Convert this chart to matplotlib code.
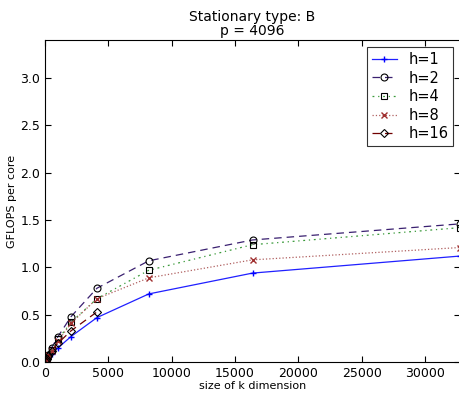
import matplotlib
matplotlib.use('Agg')
import matplotlib.pyplot as plt

k = [64, 128, 256, 512, 1024, 2048, 4096, 8192, 16384, 32768]
h1 = [0.015, 0.03, 0.05, 0.09, 0.15, 0.27, 0.47, 0.72, 0.94, 1.12]
h2 = [0.02, 0.04, 0.08, 0.15, 0.27, 0.48, 0.78, 1.07, 1.29, 1.46]
h4 = [0.02, 0.04, 0.07, 0.13, 0.24, 0.42, 0.67, 0.97, 1.24, 1.42]
h8 = [0.02, 0.04, 0.07, 0.12, 0.22, 0.41, 0.67, 0.89, 1.08, 1.21]
k16 = [64, 128, 256, 512, 1024, 2048, 4096]
h16 = [0.02, 0.03, 0.06, 0.12, 0.20, 0.33, 0.53]

fig = plt.figure(figsize=(4.6, 3.94), dpi=100)
ax = fig.add_axes([0.098, 0.081, 0.902, 0.817])

lw = 0.9
ax.plot(k, h1, '-', lw=lw, color='#2020ff', marker='+', ms=5, mec='#0000ff', label='h=1')
ax.plot(k, h2, '--', lw=lw, color='#3a2070', marker='o', ms=5, mfc='none', mec='k', mew=0.8, dashes=(6, 4), label='h=2')
ax.plot(k, h4, '-.', lw=lw, color='#3a9a3a', marker='s', ms=5, mfc='none', mec='k', mew=0.8, dashes=(1.5, 3, 1, 3), label='h=4')
ax.plot(k, h8, ':', lw=lw, color='#b06060', marker='x', ms=5, mec='#a03030', label='h=8')
ax.plot(k16, h16, '--', lw=lw, color='#700000', marker='D', ms=4.5, mfc='none', mec='k', mew=0.8, dashes=(6, 4), label='h=16')

ax.set_xlim(0, 32768)
ax.set_ylim(0, 3.4)
ax.set_xticks([0, 5000, 10000, 15000, 20000, 25000, 30000])
ax.set_yticks([0.0, 0.5, 1.0, 1.5, 2.0, 2.5, 3.0])
ax.tick_params(direction='in', top=True, right=True, labelsize=9, length=4)
ax.set_xlabel('size of k dimension', fontsize=8, labelpad=1)
ax.set_ylabel('GFLOPS per core', fontsize=8, labelpad=2)
ax.set_title('Stationary type: B\np = 4096', fontsize=10, linespacing=1.0, pad=4)

leg = ax.legend(loc='upper right', numpoints=1, fontsize=10.5, fancybox=False,
                borderaxespad=0.5, handlelength=1.7, labelspacing=0.25,
                borderpad=0.3, handletextpad=0.8)
leg.get_frame().set_edgecolor('k')
leg.get_frame().set_linewidth(0.8)

fig.savefig('out.png', dpi=100)
